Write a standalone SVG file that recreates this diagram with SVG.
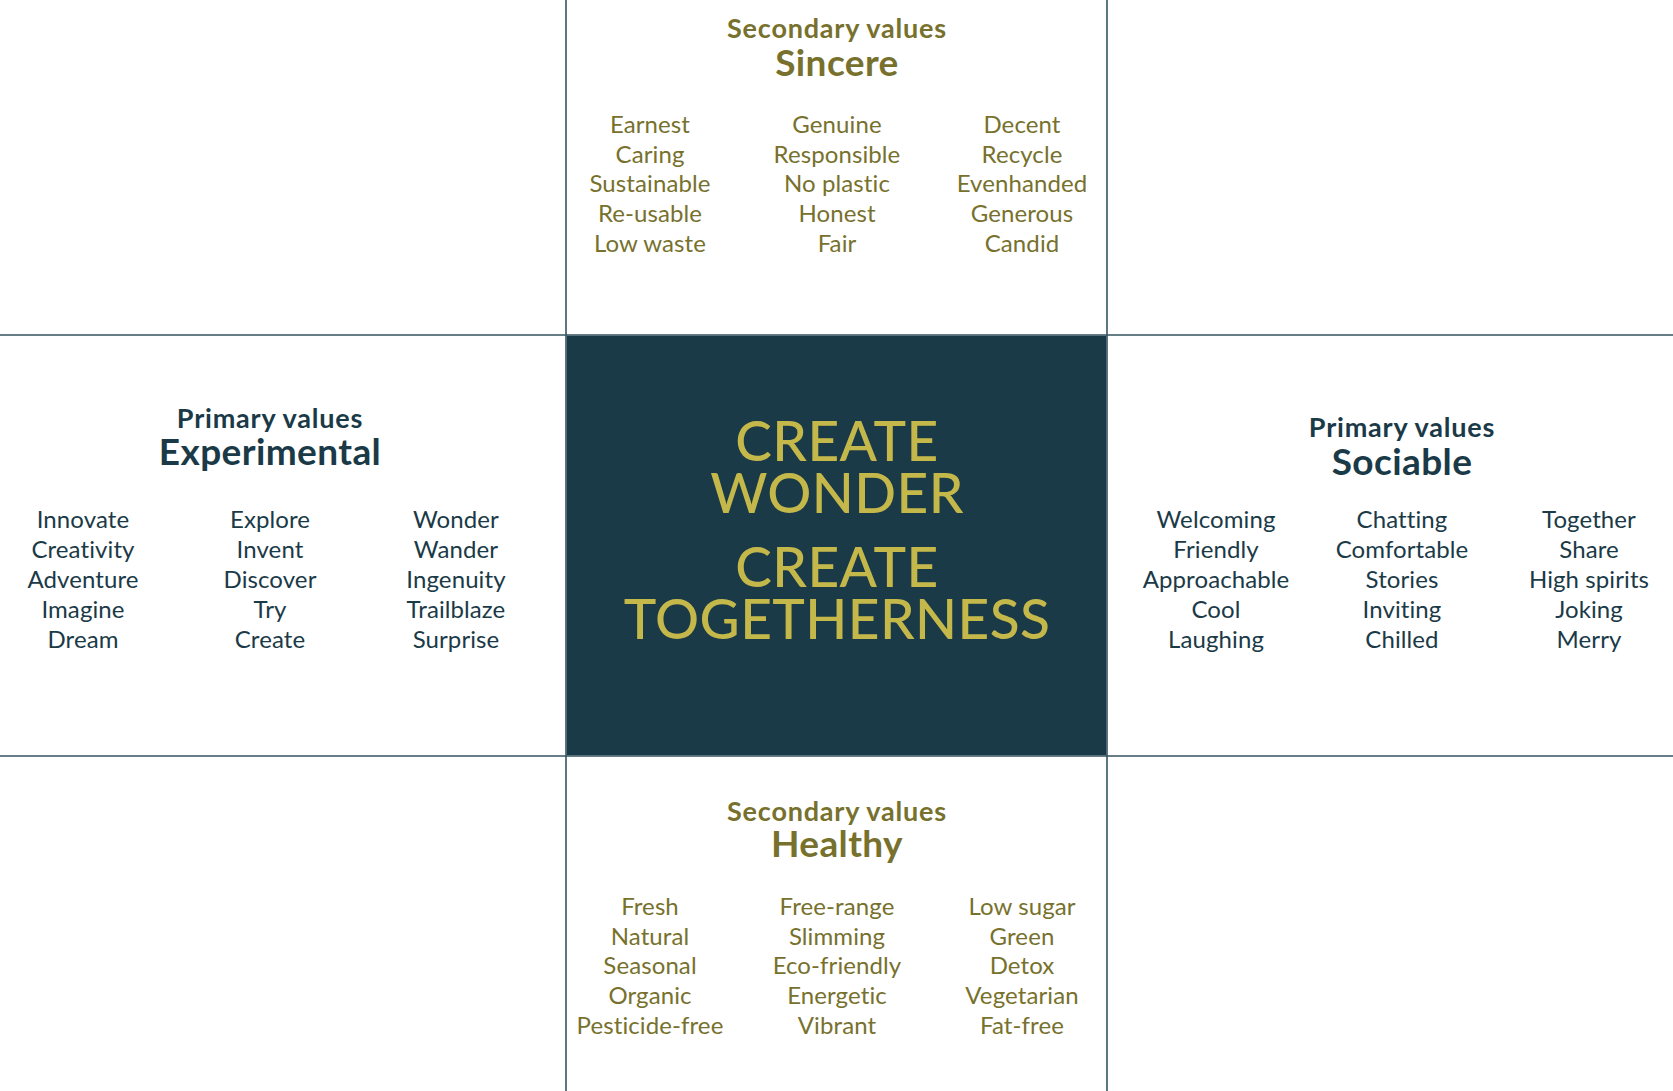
<svg xmlns="http://www.w3.org/2000/svg" width="1673" height="1091" viewBox="0 0 1673 1091">
  <style>
    .grid { stroke: #35535f; stroke-width: 1.6; fill: none; }
    .core { fill: #1a3a47; }
    .motto { font-family: Lato, "Liberation Sans", sans-serif; font-weight: 500; font-size: 55px; letter-spacing: 0.4px; fill: #c5b84b; text-anchor: middle; }
    .kicker { font-family: Lato, "Liberation Sans", sans-serif; font-weight: 700; font-size: 27px; letter-spacing: 0.8px; text-anchor: middle; }
    .title { font-family: Lato, "Liberation Sans", sans-serif; font-weight: 700; font-size: 37px; letter-spacing: 0.4px; text-anchor: middle; }
    .word { font-family: Lato, "Liberation Sans", sans-serif; font-weight: 400; font-size: 24px; letter-spacing: 0.1px; text-anchor: middle; }
    .primary { fill: #1b3a47; }
    .secondary { fill: #77712d; }
  </style>

  <rect width="1673" height="1091" fill="#ffffff"/>

  <!-- dividing lines of the grid -->
  <g id="connectors">
    <line class="grid" x1="566" y1="0" x2="566" y2="1091"/>
    <line class="grid" x1="1107" y1="0" x2="1107" y2="1091"/>
    <line class="grid" x1="0" y1="335" x2="1673" y2="335"/>
    <line class="grid" x1="0" y1="756" x2="1673" y2="756"/>
  </g>

  <!-- central statement -->
  <g id="core">
    <rect class="core" x="566.8" y="335.8" width="539.4" height="419.4"/>
    <text class="motto" x="837" y="461">CREATE</text>
    <text class="motto" x="837" y="513">WONDER</text>
    <text class="motto" x="837" y="587">CREATE</text>
    <text class="motto" x="837" y="639">TOGETHERNESS</text>
  </g>

  <!-- top: secondary values, Sincere -->
  <g id="sincere" class="secondary">
    <text class="kicker" x="837" y="38">Secondary values</text>
    <text class="title" x="837" y="76">Sincere</text>
    <g class="word">
      <text x="650" y="133">Earnest</text>
      <text x="650" y="163">Caring</text>
      <text x="650" y="192">Sustainable</text>
      <text x="650" y="222">Re-usable</text>
      <text x="650" y="252">Low waste</text>
      <text x="837" y="133">Genuine</text>
      <text x="837" y="163">Responsible</text>
      <text x="837" y="192">No plastic</text>
      <text x="837" y="222">Honest</text>
      <text x="837" y="252">Fair</text>
      <text x="1022" y="133">Decent</text>
      <text x="1022" y="163">Recycle</text>
      <text x="1022" y="192">Evenhanded</text>
      <text x="1022" y="222">Generous</text>
      <text x="1022" y="252">Candid</text>
    </g>
  </g>

  <!-- left: primary values, Experimental -->
  <g id="experimental" class="primary">
    <text class="kicker" x="270" y="428">Primary values</text>
    <text class="title" x="270" y="465">Experimental</text>
    <g class="word">
      <text x="83" y="528">Innovate</text>
      <text x="83" y="558">Creativity</text>
      <text x="83" y="588">Adventure</text>
      <text x="83" y="618">Imagine</text>
      <text x="83" y="648">Dream</text>
      <text x="270" y="528">Explore</text>
      <text x="270" y="558">Invent</text>
      <text x="270" y="588">Discover</text>
      <text x="270" y="618">Try</text>
      <text x="270" y="648">Create</text>
      <text x="456" y="528">Wonder</text>
      <text x="456" y="558">Wander</text>
      <text x="456" y="588">Ingenuity</text>
      <text x="456" y="618">Trailblaze</text>
      <text x="456" y="648">Surprise</text>
    </g>
  </g>

  <!-- right: primary values, Sociable -->
  <g id="sociable" class="primary">
    <text class="kicker" x="1402" y="437">Primary values</text>
    <text class="title" x="1402" y="475">Sociable</text>
    <g class="word">
      <text x="1216" y="528">Welcoming</text>
      <text x="1216" y="558">Friendly</text>
      <text x="1216" y="588">Approachable</text>
      <text x="1216" y="618">Cool</text>
      <text x="1216" y="648">Laughing</text>
      <text x="1402" y="528">Chatting</text>
      <text x="1402" y="558">Comfortable</text>
      <text x="1402" y="588">Stories</text>
      <text x="1402" y="618">Inviting</text>
      <text x="1402" y="648">Chilled</text>
      <text x="1589" y="528">Together</text>
      <text x="1589" y="558">Share</text>
      <text x="1589" y="588">High spirits</text>
      <text x="1589" y="618">Joking</text>
      <text x="1589" y="648">Merry</text>
    </g>
  </g>

  <!-- bottom: secondary values, Healthy -->
  <g id="healthy" class="secondary">
    <text class="kicker" x="837" y="821">Secondary values</text>
    <text class="title" x="837" y="857">Healthy</text>
    <g class="word">
      <text x="650" y="915">Fresh</text>
      <text x="650" y="945">Natural</text>
      <text x="650" y="974">Seasonal</text>
      <text x="650" y="1004">Organic</text>
      <text x="650" y="1034">Pesticide-free</text>
      <text x="837" y="915">Free-range</text>
      <text x="837" y="945">Slimming</text>
      <text x="837" y="974">Eco-friendly</text>
      <text x="837" y="1004">Energetic</text>
      <text x="837" y="1034">Vibrant</text>
      <text x="1022" y="915">Low sugar</text>
      <text x="1022" y="945">Green</text>
      <text x="1022" y="974">Detox</text>
      <text x="1022" y="1004">Vegetarian</text>
      <text x="1022" y="1034">Fat-free</text>
    </g>
  </g>
</svg>
